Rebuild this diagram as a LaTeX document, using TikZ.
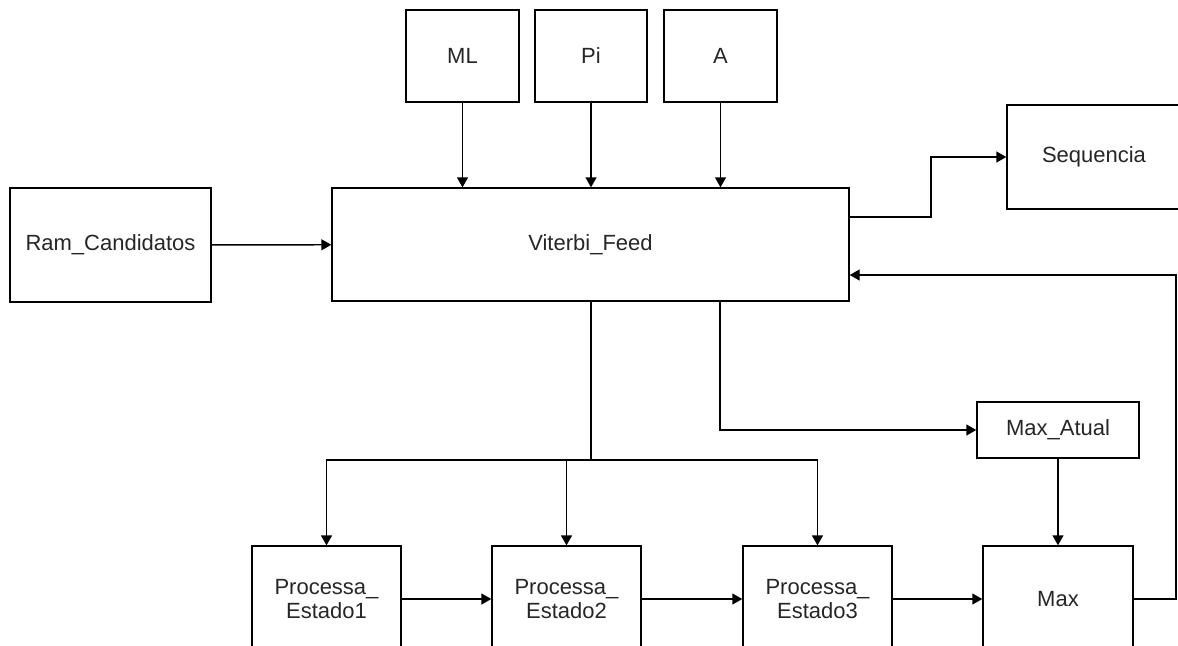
\documentclass[tikz,border=0pt]{standalone}
\usepackage{fontspec}
\setmainfont{Liberation Sans}
\usetikzlibrary{arrows.meta}
\tikzset{>={Triangle[length=5pt,width=5.5pt]}}
\tikzset{
  blk/.style = {draw, line width=0.7pt, align=center, font=\fontsize{11}{12}\selectfont,
    text=black!85, inner sep=0pt},
  wire/.style = {line width=0.7pt}
}

\begin{document}
\begin{tikzpicture}[x=0.5pt,y=-0.5pt]
  \useasboundingbox (0,0) rectangle (1178,645);
  \clip (0,0) rectangle (1178,645);
  % inputs on top
  \node (ml) at (462.5,56) [blk, minimum width=56.5pt, minimum height=46pt] {ML};
  \node (pi) at (591,56) [blk, minimum width=56pt, minimum height=46pt] {Pi};
  \node (a) at (720.5,56) [blk, minimum width=56.5pt, minimum height=46pt] {A};
  \node (viterbi) at (590.5,244.5) [blk, minimum width=258.5pt, minimum height=56.5pt] {Viterbi\_Feed};
  \node (ram) at (110.5,245) [blk, minimum width=100.5pt, minimum height=57pt] {Ram\_Candidatos};
  \node (seq) at (1094,157) [blk, minimum width=87pt, minimum height=52pt] {Sequencia};
  \node (maxatual) at (1058,430) [blk, minimum width=81pt, minimum height=28pt] {Max\_Atual};
  % state blocks
  \node (p1) at (326.5,599) [blk, minimum width=74.5pt, minimum height=53pt] {Processa\_\\Estado1};
  \node (p2) at (566.5,599) [blk, minimum width=74.5pt, minimum height=53pt] {Processa\_\\Estado2};
  \node (p3) at (817.5,599) [blk, minimum width=74.5pt, minimum height=53pt] {Processa\_\\Estado3};
  \node (max) at (1058,599) [blk, minimum width=75pt, minimum height=53pt] {Max};

  \coordinate (seqturn) at (931,217);
  \coordinate (fb) at (1176,275);
  \coordinate (split) at (591,460);
  \coordinate (mturn) at (720,430);

  \draw[wire,->] (ram) -- (viterbi);
  \foreach \i in {ml,pi,a}
    \draw[wire,->] (\i) -- (\i |- viterbi.north);
  \draw[wire,->] (viterbi.east |- seqturn) -- (seqturn) |- (seq.west);
  \draw[wire,->] (max.east) -| (fb) -- (viterbi.east |- fb);
  \draw[wire] (viterbi.south -| split) -- (split);
  \foreach \i in {p1,p2,p3}
    \draw[wire,->] (split) -| (\i.north);
  \draw[wire,->] (viterbi.south -| mturn) -- (mturn) -- (maxatual.west);
  \draw[wire,->] (maxatual) -- (max);
  \draw[wire,->] (p1) -- (p2);
  \draw[wire,->] (p2) -- (p3);
  \draw[wire,->] (p3) -- (max);
\end{tikzpicture}
\end{document}
